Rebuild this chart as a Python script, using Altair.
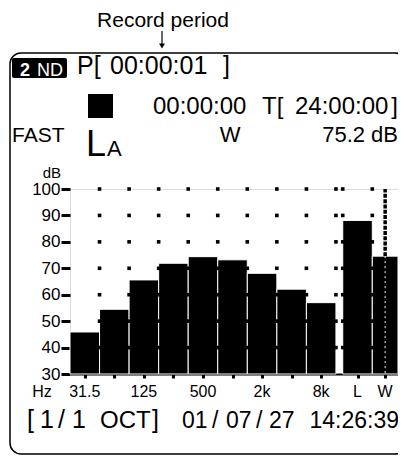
import altair as alt
import pandas as pd

# ---- data read from the display ----
bands = ["31.5", "63", "125", "250", "500", "1k", "2k", "4k", "8k", "L", "W"]
levels_db = [45.9, 54.5, 65.6, 71.9, 74.4, 73.2, 68.1, 62.1, 57.0, 88.1, 74.6]
tick_labels = ["31.5", "", "125", "", "500", "", "2k", "", "8k", "L", "W"]
y_ticks = [30, 40, 50, 60, 70, 80, 90, 100]
grid_levels = [40, 50, 60, 70, 80, 90, 100]

FONT = "Liberation Sans, Arial, Helvetica, sans-serif"

# ---- layout of bar slots (derived, in bar-width units) ----
GAP = 0.23
XMAX = 11.1
starts = [float(i) if i < 9 else i + GAP for i in range(len(bands))]
ends = [s + 1.0 for s in starts]
ends[-1] = XMAX
centers = [(a + b) / 2 for a, b in zip(starts, ends)]

df = pd.DataFrame({
    "band": bands, "level": levels_db, "start": starts, "end": ends,
    "center": centers, "label": tick_labels,
})

boundaries = sorted(set(round(v, 3) for v in starts[1:] + ends[:-1]))
grid = pd.DataFrame([{"bx": b, "lv": l} for b in boundaries for l in grid_levels])

xscale = alt.Scale(domain=[0, XMAX], nice=False, zero=False)
yscale = alt.Scale(domain=[30, 100], nice=False, zero=False)
xaxis = alt.Axis(values=centers, labels=False, title="", grid=False,
                 domainColor="black", domainWidth=2, tickColor="black",
                 tickWidth=3, tickSize=4)
yaxis = alt.Axis(values=y_ticks, title="", grid=False, domain=False,
                 tickColor="black", tickWidth=3, tickSize=9,
                 labelFont=FONT, labelFontSize=17, labelColor="black",
                 labelPadding=1, labelOverlap=False)


def X(field):
    return alt.X(field, scale=xscale, axis=xaxis)


def Y(field):
    return alt.Y(field, scale=yscale, axis=yaxis)


bars = alt.Chart(df).mark_rect(color="black", stroke="white", strokeWidth=1).encode(
    x=X("start:Q"), x2="end:Q", y=Y("level:Q"), y2=alt.datum(30),
)

dots = alt.Chart(grid).mark_square(size=13, color="black", opacity=1).encode(
    x=X("bx:Q"), y=Y("lv:Q")
)

wrow = df[df["band"] == "W"]
w_black = alt.Chart(wrow).mark_rule(color="black", strokeWidth=3.5, strokeDash=[4, 1.3]).encode(
    x=X("center:Q"), y=Y("level:Q"), y2=alt.datum(100)
)
w_white = alt.Chart(wrow).mark_rule(color="white", strokeWidth=1, strokeDash=[2, 3]).encode(
    x=X("center:Q"), y=Y("level:Q"), y2=alt.datum(30)
)

xlabels = alt.Chart(df).mark_text(font=FONT, fontSize=16, baseline="alphabetic",
                                  align="center", color="black").encode(
    x=X("center:Q"), y=alt.value(208), text="label:N"
)

one = pd.DataFrame({"k": [0]})


def txt(s, x, y, size, align="left", weight="normal", color="black"):
    return alt.Chart(one).mark_text(text=s, font=FONT, fontSize=size, align=align,
                                    baseline="alphabetic", fontWeight=weight,
                                    color=color).encode(x=alt.value(x), y=alt.value(y))


def box(x, x2, y, y2, **kw):
    return alt.Chart(one).mark_rect(**kw).encode(
        x=alt.value(x), x2=alt.value(x2), y=alt.value(y), y2=alt.value(y2))


frame = box(-60, 336, -136, 265, fillOpacity=0, stroke="black", strokeWidth=1.5,
            cornerRadius=11)
tag = box(-58, -3, -131, -111, color="black", cornerRadius=2)
square = box(18, 43, -95, -71, color="black")

arrow = alt.Chart(one).mark_rule(color="black", strokeWidth=1.2).encode(
    x=alt.value(92), y=alt.value(-158), y2=alt.value(-145))
arrowhead = alt.Chart(one).mark_point(shape="triangle-down", filled=True, size=35,
                                      color="black", opacity=1).encode(
    x=alt.value(92), y=alt.value(-143))

texts = [
    txt("Record period", 93, -162, 21, align="center"),
    txt("2", -50, -113, 18, weight="bold", color="white"),
    txt("ND", -33, -113, 18, color="white"),
    txt("P[", 7, -115, 25),
    txt("00:00:01", 40, -115, 25),
    txt("]", 153, -115, 25),
    txt("00:00:00", 83, -75, 24),
    txt("T[", 192, -75, 24),
    txt("24:00:00", 225, -75, 24),
    txt("]", 328, -75, 24, align="right"),
    txt("FAST", -58, -47, 21),
    txt("L", 16, -33, 36),
    txt("A", 37, -33, 22),
    txt("W", 160, -47, 22, align="center"),
    txt("75.2 dB", 328, -47, 22, align="right"),
    txt("dB", -9, -11, 15, align="right"),
    txt("Hz", -28, 208, 16, align="center"),
    txt("[", -43, 239, 25),
    txt("1", -30, 239, 25),
    txt("/", -12, 239, 25),
    txt("1", 2, 239, 25),
    txt("OCT", 30, 239, 24),
    txt("]", 82, 239, 25),
    txt("01", 112, 239, 23),
    txt("/", 142, 239, 23),
    txt("07", 156, 239, 23),
    txt("/", 186, 239, 23),
    txt("27", 199, 239, 23),
    txt("14:26:39", 329, 239, 23, align="right"),
]

chart = alt.layer(frame, tag, square, arrow, arrowhead, bars, dots, w_black, w_white,
                  xlabels, *texts).properties(
    width=328, height=185,
    padding={"left": 62, "top": 181, "right": 0, "bottom": 81},
    autosize=alt.AutoSizeParams(type="none"),
).configure_view(strokeWidth=0).configure(font=FONT, background="white")

chart.save("out.html", embed_options={"renderer": "svg", "actions": False})
